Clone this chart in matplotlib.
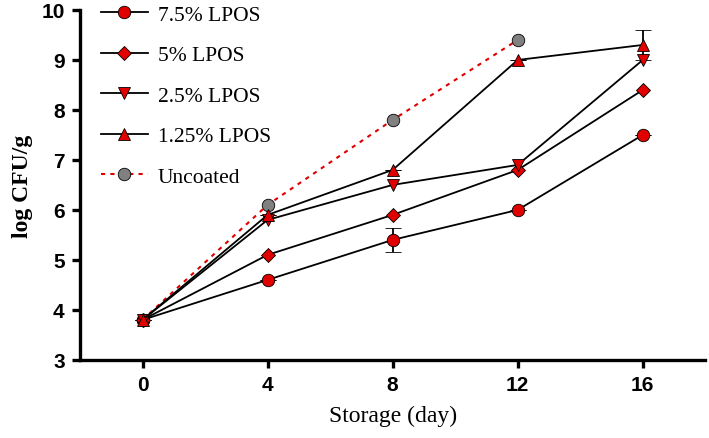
import matplotlib.pyplot as plt
from matplotlib.lines import Line2D

# storage days
days = [0, 4, 8, 12, 16]
days_uncoated = [0, 4, 8, 12]

# log CFU/g
lpos_75 = [3.8, 4.6, 5.4, 6.0, 7.5]
lpos_75_err = [0, 0, 0.24, 0, 0]
lpos_5 = [3.8, 5.1, 5.9, 6.8, 8.4]
lpos_25 = [3.8, 5.8, 6.5, 6.9, 9.0]
lpos_125 = [3.8, 5.9, 6.8, 9.0, 9.3]
lpos_125_err = [0, 0, 0, 0, 0.3]
uncoated = [3.8, 6.1, 7.8, 9.4]

labels = ['7.5% LPOS', '5% LPOS', '2.5% LPOS', '1.25% LPOS', 'Uncoated']

fig = plt.figure(figsize=(7.09, 4.39), dpi=100)
ax = fig.add_axes([0.1128, 0.178, 0.882, 0.797])

red = '#e00000'
common = dict(color='black', lw=1.3, markerfacecolor=red,
              markeredgecolor='black', markeredgewidth=0.6,
              capsize=6, elinewidth=1.3, capthick=1.3)

ax.errorbar(days, lpos_75, yerr=lpos_75_err, marker='o', markersize=9, **common)
ax.errorbar(days, lpos_5, marker='D', markersize=7, **common)
ax.errorbar(days, lpos_25, marker='v', markersize=9, **common)
ax.errorbar(days, lpos_125, yerr=lpos_125_err, marker='^', markersize=9, **common)
ax.plot(days_uncoated, uncoated, color=red, lw=1.5, linestyle=(0, (2, 2.5)),
        marker='o', markersize=9, markerfacecolor='#808080',
        markeredgecolor='black', markeredgewidth=0.6)

# legend handles without error bars
mk = dict(color='black', lw=1.3, markerfacecolor=red, markeredgecolor='black', markeredgewidth=0.6)
handles = [
    Line2D([], [], marker='o', markersize=9, **mk),
    Line2D([], [], marker='D', markersize=7, **mk),
    Line2D([], [], marker='v', markersize=9, **mk),
    Line2D([], [], marker='^', markersize=9, **mk),
    Line2D([], [], color=red, lw=1.5, linestyle=(0, (2, 2.5)), marker='o', markersize=9,
           markerfacecolor='#808080', markeredgecolor='black', markeredgewidth=0.6),
]

ax.set_xlim(-2, 18)
ax.set_ylim(3, 10)
ax.set_xticks(days)
ax.set_yticks(range(3, 11))

for s in ['top', 'right']:
    ax.spines[s].set_visible(False)
for s in ['left', 'bottom']:
    ax.spines[s].set_linewidth(2.4)
ax.tick_params(width=2.4, length=6, labelsize=15, pad=5)
for lab in ax.get_xticklabels() + ax.get_yticklabels():
    lab.set_fontweight('bold')
    lab.set_fontfamily('Liberation Sans')

ax.set_xlabel('Storage (day)', fontsize=17, fontfamily='Liberation Serif', labelpad=8)
ax.set_ylabel('log CFU/g', fontsize=17, fontfamily='Liberation Serif', fontweight='bold', labelpad=6)

ax.legend(handles, labels, loc='upper left', bbox_to_anchor=(0.127, 1.012), bbox_transform=fig.transFigure,
          frameon=False, prop={'family': 'Liberation Serif', 'size': 15.5},
          handlelength=2.2, labelspacing=0.95, handletextpad=0.45, borderpad=0)

fig.savefig('out.png', dpi=100)
